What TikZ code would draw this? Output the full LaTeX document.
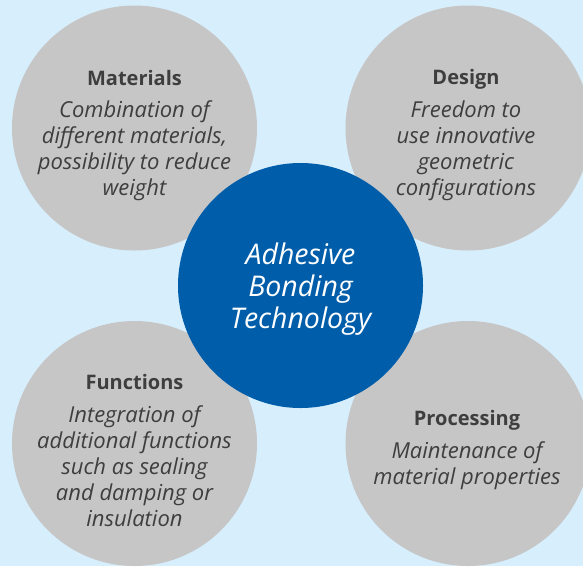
\documentclass[tikz,border=0pt]{standalone}
\usepackage{fontspec}
\setmainfont{Open Sans}
\definecolor{bgblue}{HTML}{D7EEFC}
\definecolor{circgrey}{HTML}{C6C6C6}
\definecolor{mainblue}{HTML}{005DA9}
\definecolor{txtgrey}{HTML}{3E3E3E}
\begin{document}
\begin{tikzpicture}[x=1pt,y=-1pt,
  greycirc/.style={circle,fill=circgrey,minimum size=245pt,inner sep=0pt},
  bluecirc/.style={circle,fill=mainblue,minimum size=245pt,inner sep=0pt},
  title/.style={font=\fontsize{20}{24}\selectfont\bfseries,text=txtgrey},
  body/.style={font=\fontsize{22}{26}\selectfont\itshape,text=txtgrey,align=center,inner sep=0pt},
  centertext/.style={font=\fontsize{28.5}{32}\selectfont\itshape,text=white,align=center,inner sep=0pt}]
\fill[bgblue] (0,0) rectangle (583,566);
\useasboundingbox (0,0) rectangle (583,566);
\node[greycirc] (mat) at (134.5,128) {};
\node[greycirc] (des) at (468,128) {};
\node[greycirc] (fun) at (134.5,443.5) {};
\node[greycirc] (pro) at (468,443.5) {};
\node[bluecirc] (abt) at (300.5,285.5) {};
\node[title] (matt) at (134.5,78) {Materials};
\node[body] (matb) at (134.5,151) {Combination of\\different materials,\\possibility to reduce\\weight};
\node[title] (dest) at (466,79) {Design};
\node[body] (desb) at (466,151) {Freedom to\\use innovative\\geometric\\configurations};
\node[title] (funt) at (134.5,382) {Functions};
\node[body] (funb) at (134.5,466) {Integration of\\additional functions\\such as sealing\\and damping or\\insulation};
\node[title] (prot) at (467,420) {Processing};
\node[body] (prob) at (467,466) {Maintenance of\\material properties};
\node[centertext] (abtt) at ([yshift=-4pt]abt.center) {Adhesive\\Bonding\\Technology};
\end{tikzpicture}
\end{document}
